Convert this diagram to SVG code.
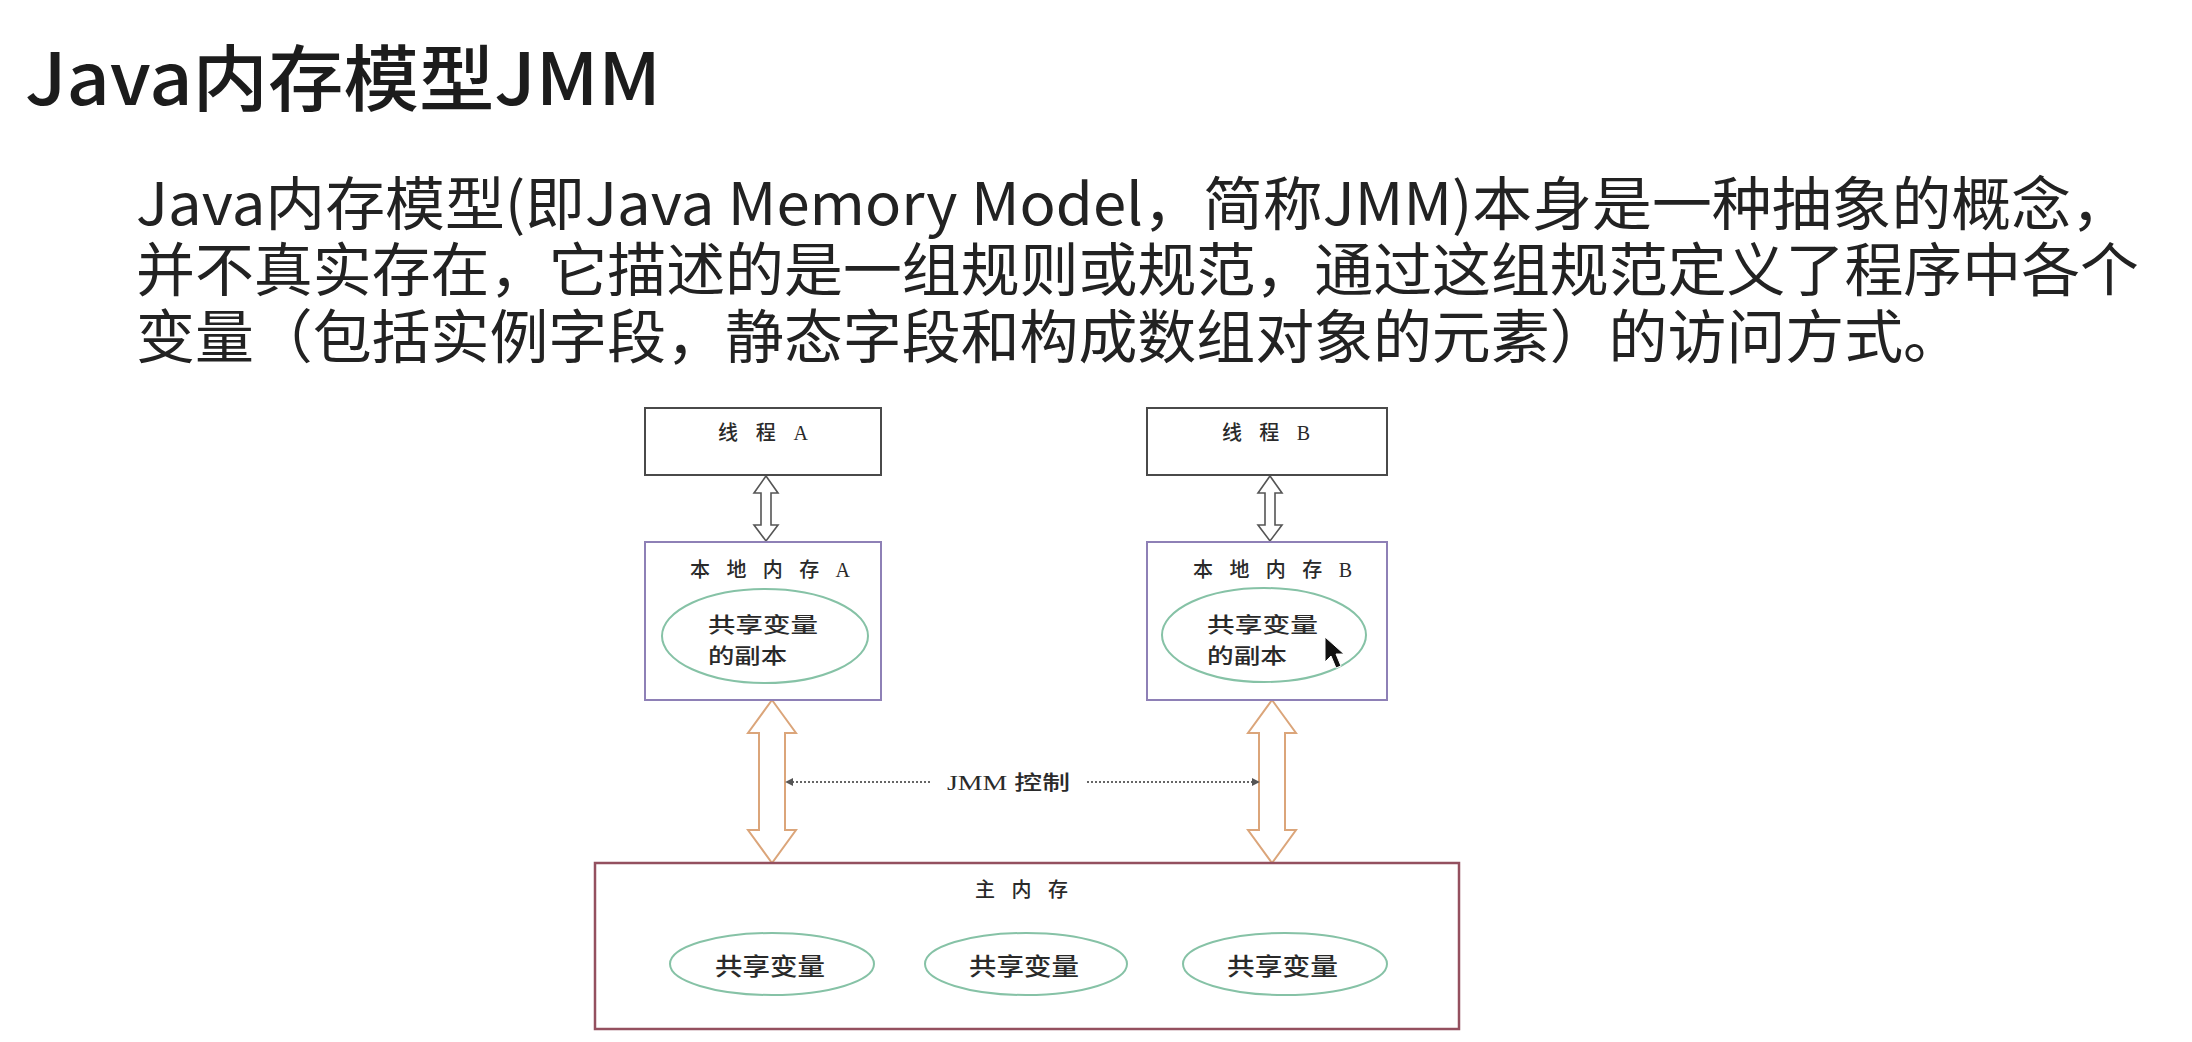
<svg xmlns="http://www.w3.org/2000/svg" width="2192" height="1042" viewBox="0 0 2192 1042">
<defs>
<style>
.title{font-family:"Noto Sans CJK SC","Noto Sans",sans-serif;font-size:72px;font-weight:500;fill:#1c1c1c}
.body{font-family:"Noto Sans CJK SC","Noto Sans",sans-serif;font-size:58px;fill:#222}
.lbl{font-family:"Liberation Serif","Noto Sans CJK SC",serif;font-size:20px;font-weight:500;fill:#2a2a2a}
.etxt{font-family:"Noto Sans CJK SC",sans-serif;font-size:21px;font-weight:500;fill:#2a2a2a}
.mtxt{font-family:"Noto Sans CJK SC",sans-serif;font-size:24px;font-weight:500;fill:#2a2a2a}
.thread{fill:#fff;stroke:#4a4a4a;stroke-width:2}
.local{fill:#fff;stroke:#8e80b6;stroke-width:2}
.main{fill:#fff;stroke:#94505f;stroke-width:2.5}
.ell{fill:none;stroke:#86c2a6;stroke-width:2}
.thin{fill:#fff;stroke:#555;stroke-width:1.6}
.orange{fill:#fff;stroke:#dba57a;stroke-width:2}
.dot{stroke:#666;stroke-width:2;stroke-dasharray:2 2;fill:none}
</style>
<marker id="ah" viewBox="0 0 10 10" refX="9" refY="5" markerWidth="8" markerHeight="8" markerUnits="userSpaceOnUse" orient="auto-start-reverse">
<path d="M0,0 L10,5 L0,10 Z" fill="#555"/>
</marker>
</defs>
<rect width="2192" height="1042" fill="#fff"/>

<g id="title">
<text class="title" x="25" y="105" textLength="636" lengthAdjust="spacingAndGlyphs">Java内存模型JMM</text>
</g>
<g id="description">
<text class="body"><tspan x="136" y="225" textLength="1995" lengthAdjust="spacingAndGlyphs">Java内存模型(即Java Memory Model，简称JMM)本身是一种抽象的概念，</tspan><tspan x="136" y="291" textLength="2003" lengthAdjust="spacingAndGlyphs">并不真实存在，它描述的是一组规则或规范，通过这组规范定义了程序中各个</tspan><tspan x="136" y="358" textLength="1826" lengthAdjust="spacingAndGlyphs">变量（包括实例字段，静态字段和构成数组对象的元素）的访问方式。</tspan></text>
</g>

<g id="connectors">
<path class="thin" d="M766,476 L778,493 L771,493 L771,525 L778,525 L766,541 L754,525 L761,525 L761,493 L754,493 Z"/>
<path class="thin" d="M1270,476 L1282,493 L1275,493 L1275,525 L1282,525 L1270,541 L1258,525 L1265,525 L1265,493 L1258,493 Z"/>
<path class="orange" d="M772,700 L796,733 L785,733 L785,830 L796,830 L772,863 L748,830 L759,830 L759,733 L748,733 Z"/>
<path class="orange" d="M1272,700 L1296,733 L1285,733 L1285,830 L1296,830 L1272,863 L1248,830 L1259,830 L1259,733 L1248,733 Z"/>
<line class="dot" x1="930" y1="782" x2="786" y2="782" marker-end="url(#ah)"/>
<line class="dot" x1="1087" y1="782" x2="1259" y2="782" marker-end="url(#ah)"/>
<text class="lbl" x="947" y="790" font-size="23" textLength="123" lengthAdjust="spacingAndGlyphs">JMM 控制</text>
</g>

<g id="threadA">
<rect class="thread" x="645" y="408" width="236" height="67"/>
<text class="lbl" x="718" y="440" textLength="90" lengthAdjust="spacing">线 程 A</text>
</g>
<g id="threadB">
<rect class="thread" x="1147" y="408" width="240" height="67"/>
<text class="lbl" x="1222" y="440" textLength="88" lengthAdjust="spacing">线 程 B</text>
</g>

<g id="localA">
<rect class="local" x="645" y="542" width="236" height="158"/>
<text class="lbl" x="690" y="577" textLength="160" lengthAdjust="spacing">本 地 内 存 A</text>
<ellipse class="ell" cx="765" cy="636" rx="103" ry="47"/>
<text class="etxt" x="708" y="632" textLength="110" lengthAdjust="spacingAndGlyphs">共享变量</text>
<text class="etxt" x="708" y="663" textLength="79" lengthAdjust="spacingAndGlyphs">的副本</text>
</g>
<g id="localB">
<rect class="local" x="1147" y="542" width="240" height="158"/>
<text class="lbl" x="1193" y="577" textLength="159" lengthAdjust="spacing">本 地 内 存 B</text>
<ellipse class="ell" cx="1264" cy="635" rx="102" ry="47"/>
<text class="etxt" x="1207" y="632" textLength="111" lengthAdjust="spacingAndGlyphs">共享变量</text>
<text class="etxt" x="1207" y="663" textLength="80" lengthAdjust="spacingAndGlyphs">的副本</text>
</g>

<g id="mainMemory">
<rect class="main" x="595" y="863" width="864" height="166"/>
<text class="lbl" x="975" y="897" textLength="93" lengthAdjust="spacing">主 内 存</text>
<ellipse class="ell" cx="772" cy="964" rx="102" ry="31"/>
<text class="mtxt" x="715" y="975" textLength="110" lengthAdjust="spacingAndGlyphs">共享变量</text>
<ellipse class="ell" cx="1026" cy="964" rx="101" ry="31"/>
<text class="mtxt" x="969" y="975" textLength="110" lengthAdjust="spacingAndGlyphs">共享变量</text>
<ellipse class="ell" cx="1285" cy="964" rx="102" ry="31"/>
<text class="mtxt" x="1227" y="975" textLength="111" lengthAdjust="spacingAndGlyphs">共享变量</text>
</g>

<g id="cursor">
<path d="M1325,637 L1325,662 L1331,656 L1336,668 L1341,666 L1336,654 L1344,654 Z" fill="#111" stroke="#fff" stroke-width="1"/>
</g>
</svg>
